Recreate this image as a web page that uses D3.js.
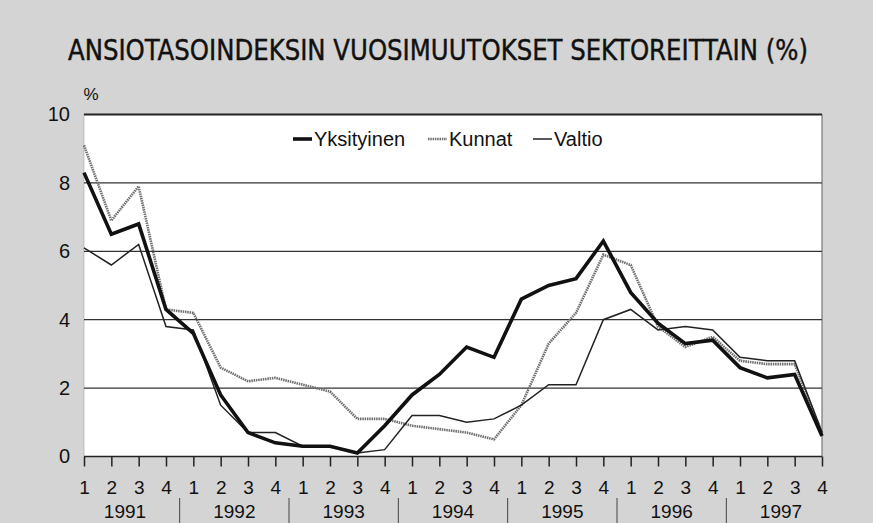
<!DOCTYPE html>
<html><head><meta charset="utf-8">
<script src="https://cdn.jsdelivr.net/npm/d3@7"></script>
<style>html,body{margin:0;padding:0;background:#d4d4d4;}svg{display:block;background:#d4d4d4;}</style>
</head><body>
<svg id="c" width="873" height="523"></svg>
<script>
const title = "ANSIOTASOINDEKSIN VUOSIMUUTOKSET SEKTOREITTAIN (%)";
const years = ["1991","1992","1993","1994","1995","1996","1997"];
const quarterLabels = ["1","2","3","4"];
const yTicks = [0,2,4,6,8,10];
const seriesNames = ["Yksityinen","Kunnat","Valtio"];
const yksityinen = [8.3,6.5,6.8,4.3, 3.6,1.8,0.7,0.4, 0.3,0.3,0.1,0.9, 1.8,2.4,3.2,2.9, 4.6,5.0,5.2,6.3, 4.8,3.9,3.3,3.4, 2.6,2.3,2.4,0.6];
const kunnat     = [9.1,6.9,7.9,4.3, 4.2,2.6,2.2,2.3, 2.1,1.9,1.1,1.1, 0.9,0.8,0.7,0.5, 1.5,3.3,4.2,5.9, 5.6,3.8,3.2,3.5, 2.8,2.7,2.7,0.7];
const valtio     = [6.1,5.6,6.2,3.8, 3.7,1.5,0.7,0.7, 0.3,0.3,0.1,0.2, 1.2,1.2,1.0,1.1, 1.5,2.1,2.1,4.0, 4.3,3.7,3.8,3.7, 2.9,2.8,2.8,0.7];

const svg = d3.select("#c");
const W = 873, H = 523;
const L = 84, R = 822, T = 114.5, B = 456.5;
const FONT = "'Liberation Sans',Arial,sans-serif";

svg.append("rect").attr("width",W).attr("height",H).attr("fill","#d4d4d4");

const n = yksityinen.length;
const x = d3.scaleLinear().domain([0, n-1]).range([L, R]);
const y = d3.scaleLinear().domain([0, 10]).range([B, T]);

// plot area
svg.append("rect").attr("x",L).attr("y",T).attr("width",R-L).attr("height",B-T).attr("fill","#fff");
svg.append("line").attr("x1",L).attr("x2",L).attr("y1",T).attr("y2",B).attr("stroke","#999").attr("stroke-width",1).attr("stroke-dasharray","1,1");
svg.append("line").attr("x1",R).attr("x2",R).attr("y1",T).attr("y2",B).attr("stroke","#777").attr("stroke-width",1.2);

// title
svg.append("text").attr("x",438).attr("y",60).attr("text-anchor","middle")
  .attr("font-family","'Liberation Sans Narrow','DejaVu Sans Condensed',sans-serif")
  .attr("font-size",28).attr("fill","#111").attr("stroke","#111").attr("stroke-width",0.4)
  .attr("textLength",740).attr("lengthAdjust","spacingAndGlyphs")
  .text(title);

svg.append("text").attr("x",91).attr("y",100).attr("text-anchor","middle")
  .attr("font-family",FONT).attr("font-size",17).attr("fill","#111").text("%");

// grid
const yAxis = d3.axisLeft(y).tickValues(yTicks).tickSize(0).tickPadding(14).tickFormat(d3.format("d"));
const gy = svg.append("g").attr("transform",`translate(${L},0)`).call(yAxis);
gy.select(".domain").remove();
gy.selectAll("text").attr("font-family",FONT).attr("font-size",20).attr("fill","#111");
svg.append("g").selectAll("line").data(yTicks.filter(d=>d>0)).join("line")
  .attr("x1",L).attr("x2",R).attr("y1",d=>y(d)).attr("y2",d=>y(d))
  .attr("stroke",d=>d===10?"#222":"#333").attr("stroke-width",d=>d===10?2:1.3);

// x axis
const idx = d3.range(n);
const xAxis = d3.axisBottom(x).tickValues(idx).tickSize(10).tickPadding(14).tickFormat(i=>quarterLabels[i%4]);
const gx = svg.append("g").attr("transform",`translate(0,${B})`).call(xAxis);
gx.select(".domain").attr("stroke","#222").attr("stroke-width",1.5).attr("d",`M${L},0H${R}`);
gx.selectAll(".tick line").attr("stroke","#222").attr("stroke-width",1.5);
gx.selectAll("text").attr("font-family",FONT).attr("font-size",19).attr("fill","#111").attr("dy","0.71em");

// years
svg.append("g").selectAll("text").data(years).join("text")
  .attr("x",(d,i)=>(x(i*4)+x(i*4+3))/2).attr("y",518).attr("text-anchor","middle")
  .attr("font-family",FONT).attr("font-size",19).attr("fill","#111").text(d=>d);
svg.append("g").selectAll("line").data(years.slice(1)).join("line")
  .attr("x1",(d,i)=>(x(i*4+3)+x(i*4+4))/2).attr("x2",(d,i)=>(x(i*4+3)+x(i*4+4))/2)
  .attr("y1",498).attr("y2",523).attr("stroke","#444").attr("stroke-width",1);

// lines
const line = d3.line().x((d,i)=>x(i)).y(d=>y(d));
const styles = [
  {data:yksityinen, stroke:"#111", width:3.6, dash:null},
  {data:kunnat, stroke:"#6e6e6e", width:2.6, dash:"1.5,0.8"},
  {data:valtio, stroke:"#222", width:1.5, dash:null}
];
const drawOrder = [1,2,0];
drawOrder.forEach(k=>{
  const s = styles[k];
  svg.append("path").datum(s.data).attr("d",line).attr("fill","none")
    .attr("stroke",s.stroke).attr("stroke-width",s.width).attr("stroke-linejoin","miter")
    .attr("stroke-dasharray",s.dash);
});

// legend
const legX = [293, 428, 533];
const lg = svg.append("g");
seriesNames.forEach((name,k)=>{
  const s = styles[k];
  lg.append("line").attr("x1",legX[k]).attr("x2",legX[k]+19).attr("y1",139).attr("y2",139)
    .attr("stroke",s.stroke).attr("stroke-width",s.width).attr("stroke-dasharray",s.dash);
  lg.append("text").attr("x",legX[k]+21).attr("y",146).attr("font-family",FONT)
    .attr("font-size",20).attr("fill","#111").text(name);
});
</script>
</body></html>
